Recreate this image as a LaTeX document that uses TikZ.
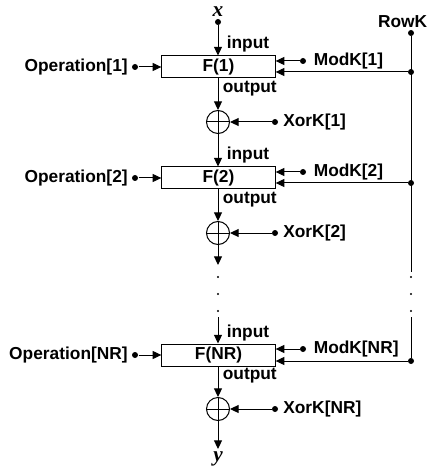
\documentclass[tikz,border=0pt]{standalone}
\usepackage{fontspec}
\setmainfont{Liberation Sans}
\newfontfamily\varfont{Liberation Serif}
\usetikzlibrary{arrows.meta}
\tikzset{
  every node/.style={font=\fontsize{13}{15}\selectfont\bfseries, inner sep=1pt},
  fblock/.style={draw, minimum width=85pt, minimum height=16.5pt, inner sep=0pt},
  xorc/.style={draw, circle, minimum size=17.25pt, inner sep=0pt},
  arr/.style={-{Triangle[length=6.5pt,width=6pt]}},
  jdot/.style={circle, fill, inner sep=0pt, minimum size=4.5pt},
  gapdot/.style={circle, fill, inner sep=0pt, minimum size=1.8pt},
  varlbl/.style={font=\fontsize{16}{18}\varfont\bfseries\itshape}
}
\begin{document}
\begin{tikzpicture}[x=0.75pt,y=-0.75pt,line width=0.75pt]
\useasboundingbox (0,0) rectangle (429,466);
\node[varlbl] (xin) at (218,12) {x};
\node[jdot] (xdot) at (218,22) {};
\node[anchor=east] (rowk) at (429,22) {RowK};
\node[jdot] (rdot0) at (411,33) {};
\node[fblock] (f1) at (218.5,67) {F(1)};
\node[anchor=east] (op1) at (129.5,67) {Operation[1]};
\node[jdot] (opdot1) at (135,67) {};
\node[jdot] (mdot1) at (303,61) {};
\node[anchor=west] (modk1) at (312,61) {ModK[1]};
\node[jdot] (rdot1) at (411,72) {};
\node[anchor=west] (in1) at (225,44) {input};
\node[anchor=west] (out1) at (221,89) {output};
\node[xorc] (x1) at (218,122) {};
\node[jdot] (xdot1) at (275,122) {};
\node[anchor=west] (xork1) at (281.5,122) {XorK[1]};
\node[fblock] (f2) at (218.5,178) {F(2)};
\node[anchor=east] (op2) at (129.5,178) {Operation[2]};
\node[jdot] (opdot2) at (135,178) {};
\node[jdot] (mdot2) at (303,172) {};
\node[anchor=west] (modk2) at (312,172) {ModK[2]};
\node[jdot] (rdot2) at (411,183) {};
\node[anchor=west] (in2) at (225,155) {input};
\node[anchor=west] (out2) at (221,200) {output};
\node[xorc] (x2) at (218,233) {};
\node[jdot] (xdot2) at (275,233) {};
\node[anchor=west] (xork2) at (281.5,233) {XorK[2]};
\coordinate (cgap1) at (218,265);
\node[gapdot] (cd1) at (218,277) {};
\node[gapdot] (cd2) at (218,294) {};
\node[gapdot] (cd3) at (218,311) {};
\coordinate (cgap2) at (218,317);
\coordinate (rgap1) at (411,272);
\node[gapdot] (rd1) at (411,277) {};
\node[gapdot] (rd2) at (411,294) {};
\node[gapdot] (rd3) at (411,311) {};
\coordinate (rgap2) at (411,317);
\node[fblock] (fNR) at (218.5,355) {F(NR)};
\node[anchor=east] (opNR) at (129.5,355) {Operation[NR]};
\node[jdot] (opdotNR) at (135,355) {};
\node[jdot] (mdotNR) at (303,349) {};
\node[anchor=west] (modkNR) at (312,349) {ModK[NR]};
\node[jdot] (rdotNR) at (411,361) {};
\node[anchor=west] (inNR) at (225,333) {input};
\node[anchor=west] (outNR) at (221,376) {output};
\node[xorc] (xNR) at (218,409) {};
\node[jdot] (xdotNR) at (275,409) {};
\node[anchor=west] (xorkNR) at (281.5,409) {XorK[NR]};
\coordinate (yend) at (218,449);
\node[varlbl] (yout) at (218,459) {y};
\draw[arr] (xdot) -- (xdot |- f1.north);
\draw[arr] (opdot1) -- (f1.west);
\draw[arr] (mdot1) -- (mdot1 -| f1.east);
\draw[arr] (rdot1) -- (rdot1 -| f1.east);
\draw[arr] (x1 |- f1.south) -- (x1.north);
\draw[arr] (xdot1) -- (x1.east);
\draw (x1.north) -- (x1.south) (x1.west) -- (x1.east);
\draw[arr] (x1.south) -- (x1 |- f2.north);
\draw[arr] (opdot2) -- (f2.west);
\draw[arr] (mdot2) -- (mdot2 -| f2.east);
\draw[arr] (rdot2) -- (rdot2 -| f2.east);
\draw[arr] (x2 |- f2.south) -- (x2.north);
\draw[arr] (xdot2) -- (x2.east);
\draw (x2.north) -- (x2.south) (x2.west) -- (x2.east);
\draw[arr] (x2.south) -- (cgap1);
\draw[arr] (cgap2) -- (cgap2 |- fNR.north);
\draw[arr] (opdotNR) -- (fNR.west);
\draw[arr] (mdotNR) -- (mdotNR -| fNR.east);
\draw[arr] (rdotNR) -- (rdotNR -| fNR.east);
\draw[arr] (xNR |- fNR.south) -- (xNR.north);
\draw[arr] (xdotNR) -- (xNR.east);
\draw (xNR.north) -- (xNR.south) (xNR.west) -- (xNR.east);
\draw[arr] (xNR.south) -- (yend);
\draw (rdot0) -- (rgap1);
\draw (rgap2) -- (rdotNR);
\end{tikzpicture}
\end{document}
